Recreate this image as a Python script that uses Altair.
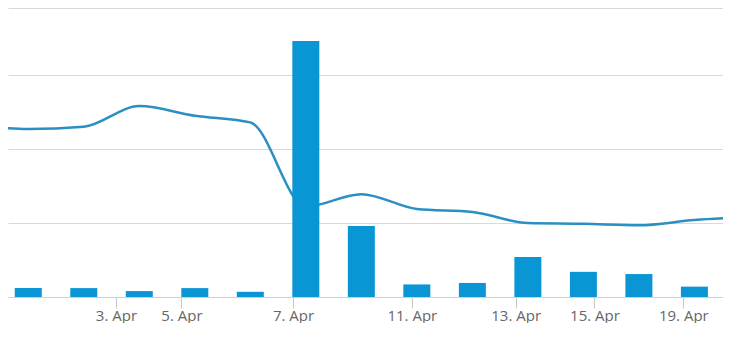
import altair as alt
import pandas as pd

# Bar series (one bar per period, evenly spaced on an ordinal time axis)
bar_index = list(range(13))
bar_values = [12, 12, 8, 12, 7, 346, 96, 17, 19, 54, 34, 31, 14]

# Smoothed line series (includes one point just outside each edge of the view)
line_index = [-1, 0, 1, 2, 3, 4, 5, 6, 7, 8, 9, 10, 11, 12, 13]
line_values = [232, 227, 230, 258, 245, 236, 122, 139, 119, 115, 100, 99, 97, 104, 108]

# Axis ticks (ordinal time axis: date ticks fall between points)
tick_pos = [1.58, 2.76, 4.77, 6.91, 8.78, 10.2, 11.8]
tick_labels = ["3. Apr", "5. Apr", "7. Apr", "11. Apr", "13. Apr", "15. Apr", "19. Apr"]

grid_values = [0, 100, 200, 300, 390.5]

bars = pd.DataFrame({"i": bar_index, "v": bar_values})
line = pd.DataFrame({"i": line_index, "v": line_values})

label_expr = ""
for p, t in zip(tick_pos, tick_labels):
    label_expr += f"abs(datum.value - {p}) < 0.001 ? '{t}' : "
label_expr += "''"

x_scale = alt.Scale(domain=[-0.275, 12.425], nice=False, zero=False)
y_scale = alt.Scale(domain=[0, 390.5], nice=False)

x_axis = alt.Axis(
    values=tick_pos,
    labelExpr=label_expr,
    title=None,
    grid=False,
    tickSize=11,
    tickColor="#c8c8c8",
    domainColor="#d0d0d0",
    labelColor="#666666",
    labelFont="Open Sans",
    labelFontSize=15,
    labelPadding=0,
    labelFlush=False,
    labelOverlap=False,
)
y_axis = alt.Axis(
    values=grid_values,
    labels=False,
    ticks=False,
    domain=False,
    title=None,
    grid=True,
    gridColor="#d9d9d9",
    gridWidth=1,
)

line_layer = alt.Chart(line).mark_line(
    interpolate="monotone", color="#2a8fc3", strokeWidth=2.5, clip=True
).encode(
    x=alt.X("i:Q", scale=x_scale, axis=x_axis),
    y=alt.Y("v:Q", scale=y_scale, axis=y_axis),
)

bar_layer = alt.Chart(bars).mark_bar(color="#0a96d4", size=27).encode(
    x=alt.X("i:Q", scale=x_scale),
    y=alt.Y("v:Q", scale=y_scale),
)

chart = alt.layer(line_layer, bar_layer).properties(
    width=715, height=289, padding=0, background="white"
).configure_view(strokeWidth=0, stroke="transparent")

chart.save("out.html", embed_options={"renderer": "svg", "actions": False})
